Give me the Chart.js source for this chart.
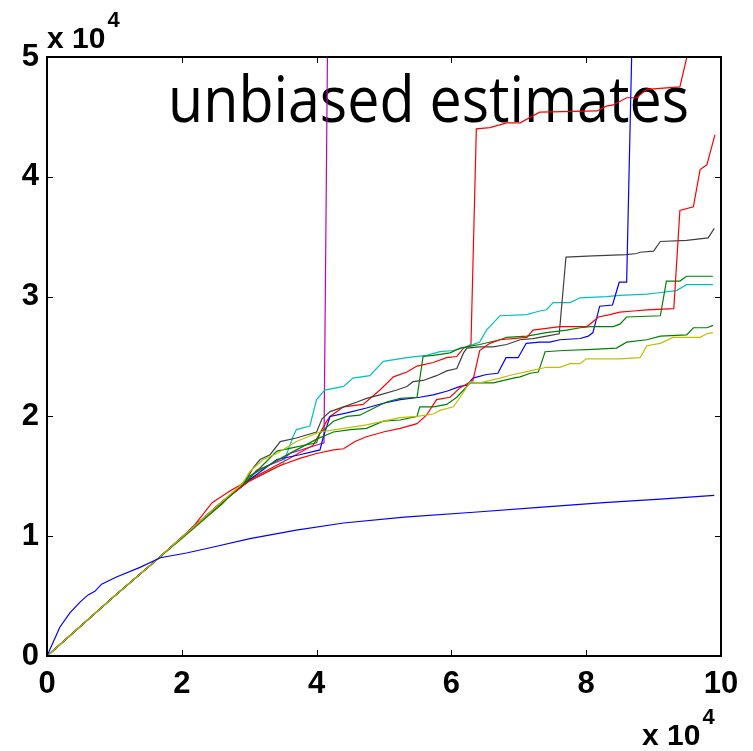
<!DOCTYPE html>
<html>
<head>
<meta charset="utf-8">
<script src="https://cdn.jsdelivr.net/npm/chart.js@4.4.1/dist/chart.umd.min.js"></script>
<style>
  html, body { margin: 0; padding: 0; background: #fff; }
  #wrap { width: 753px; height: 751px; }
</style>
</head>
<body>
<div id="wrap"><canvas id="estChart" width="753" height="751"></canvas></div>
<script>
// x and y in units of 10^4
const xTicks = [0, 2, 4, 6, 8, 10];
const yTicks = [0, 1, 2, 3, 4, 5];

const blueLow = [[0,0],[0.19,0.24],[0.34,0.36],[0.49,0.45],[0.61,0.51],[0.71,0.54],[0.81,0.6],[1.03,0.66],[1.38,0.74],[1.68,0.82],[2.07,0.86],[2.47,0.91],[3.01,0.98],[3.7,1.05],[4.4,1.11],[5.3,1.16],[6.33,1.2],[7.3,1.24],[8.26,1.28],[9.1,1.31],[9.9,1.34]];

const magenta = [[0,0],[1,0.5],[1.6,0.79],[2,0.99],[2.6,1.29],[2.9,1.42],[3.11,1.55],[3.5,1.64],[3.6,1.69],[4.05,1.77],[4.11,1.78],[4.17,5.6]];

const cyan = [[0,0],[1,0.5],[1.6,0.79],[2,0.99],[2.6,1.29],[3.0,1.46],[3.31,1.55],[3.5,1.6],[3.65,1.83],[3.7,1.89],[3.9,1.92],[4.0,2.14],[4.12,2.22],[4.4,2.25],[4.54,2.32],[4.79,2.34],[4.99,2.46],[5.34,2.49],[5.63,2.51],[5.83,2.54],[6.03,2.55],[6.23,2.58],[6.42,2.62],[6.52,2.72],[6.72,2.84],[7.12,2.85],[7.31,2.88],[7.41,2.89],[7.51,2.95],[7.76,2.95],[7.91,2.99],[8.3,3.0],[8.5,3.01],[8.9,3.02],[9.05,3.03],[9.34,3.05],[9.49,3.1],[9.88,3.1]];

const gray = [[0,0],[1,0.5],[1.6,0.79],[2,0.99],[2.6,1.28],[2.9,1.42],[3.06,1.57],[3.16,1.64],[3.31,1.68],[3.46,1.79],[3.7,1.82],[4.0,1.87],[4.08,1.98],[4.2,2.04],[4.4,2.08],[4.6,2.12],[4.74,2.15],[4.94,2.18],[5.19,2.22],[5.34,2.25],[5.43,2.29],[5.58,2.3],[5.78,2.34],[5.93,2.38],[6.08,2.4],[6.18,2.53],[6.23,2.57],[6.42,2.58],[6.62,2.58],[6.82,2.6],[7.02,2.64],[7.21,2.65],[7.41,2.67],[7.6,2.69],[7.7,3.33],[8.1,3.34],[8.6,3.35],[8.75,3.36],[8.8,3.37],[9.0,3.38],[9.1,3.46],[9.49,3.47],[9.81,3.49],[9.9,3.57]];

const redA = [[0,0],[1,0.5],[1.6,0.79],[2,0.99],[2.2,1.1],[2.45,1.28],[2.72,1.38],[3.0,1.47],[3.5,1.62],[3.95,1.76],[4.15,1.96],[4.2,2.0],[4.4,2.08],[4.69,2.1],[4.94,2.22],[5.14,2.33],[5.34,2.37],[5.49,2.42],[5.73,2.45],[5.93,2.49],[6.08,2.5],[6.18,2.57],[6.29,2.6],[6.37,4.4],[6.57,4.41],[6.82,4.45],[7.02,4.45],[7.31,4.54],[8.16,4.55],[8.3,4.59],[8.4,4.6],[8.6,4.66],[8.75,4.66],[8.9,4.73],[9.39,4.75],[9.49,4.99],[9.55,5.3]];

const redB = [[0,0],[1,0.5],[1.6,0.79],[2,0.99],[2.6,1.29],[3.0,1.46],[3.46,1.59],[3.75,1.65],[4.0,1.69],[4.25,1.72],[4.4,1.73],[4.57,1.79],[4.74,1.83],[4.99,1.87],[5.24,1.9],[5.49,1.94],[5.63,2.01],[5.78,2.14],[5.98,2.16],[6.13,2.24],[6.32,2.3],[6.42,2.55],[6.57,2.61],[6.72,2.64],[7.12,2.66],[7.21,2.72],[7.61,2.75],[8.01,2.75],[8.1,2.79],[8.18,2.83],[8.35,2.85],[8.5,2.87],[8.7,2.88],[8.9,2.89],[9.3,2.9],[9.39,3.72],[9.59,3.75],[9.69,4.06],[9.79,4.1],[9.91,4.35]];

const blueB = [[0,0],[1,0.5],[1.6,0.79],[2,0.99],[2.6,1.29],[3.0,1.47],[3.41,1.64],[3.75,1.68],[4.05,1.72],[4.1,1.83],[4.2,2.0],[4.45,2.03],[4.74,2.07],[4.99,2.11],[5.24,2.14],[5.53,2.16],[5.73,2.18],[5.93,2.21],[6.13,2.25],[6.23,2.26],[6.32,2.32],[6.52,2.35],[6.69,2.36],[6.81,2.49],[6.99,2.49],[7.11,2.61],[7.31,2.62],[7.46,2.62],[7.61,2.64],[7.91,2.65],[8.03,2.67],[8.1,2.7],[8.2,2.92],[8.39,2.93],[8.49,3.12],[8.6,3.12],[8.69,5.4]];

const greenA = [[0,0],[1,0.5],[1.6,0.79],[2,0.99],[2.6,1.28],[3.0,1.48],[3.41,1.71],[3.65,1.74],[4.0,1.78],[4.05,1.86],[4.25,1.96],[4.45,2.0],[4.64,2.01],[4.89,2.08],[5.04,2.12],[5.24,2.15],[5.49,2.16],[5.58,2.5],[5.73,2.51],[5.98,2.53],[6.13,2.57],[6.23,2.58],[6.42,2.6],[6.72,2.64],[6.82,2.66],[7.12,2.67],[7.41,2.7],[7.71,2.72],[7.91,2.74],[8.06,2.75],[8.4,2.75],[8.5,2.77],[8.6,2.83],[9.1,2.84],[9.19,3.13],[9.39,3.13],[9.49,3.17],[9.88,3.17]];

const greenB = [[0,0],[1,0.5],[1.6,0.79],[2,0.98],[2.6,1.27],[3.0,1.5],[3.5,1.66],[4.0,1.81],[4.25,1.87],[4.5,1.89],[4.74,1.9],[4.99,1.96],[5.24,1.97],[5.49,2.0],[5.53,2.08],[5.73,2.08],[5.93,2.1],[6.08,2.16],[6.28,2.28],[6.42,2.28],[6.62,2.28],[6.92,2.32],[7.02,2.33],[7.17,2.36],[7.29,2.37],[7.39,2.54],[7.66,2.55],[8.1,2.56],[8.45,2.57],[8.6,2.62],[8.9,2.64],[9.1,2.67],[9.49,2.68],[9.59,2.74],[9.79,2.74],[9.88,2.76]];

const yellow = [[0,0],[1,0.5],[1.6,0.79],[2,0.99],[2.6,1.29],[2.9,1.44],[3.01,1.54],[3.21,1.64],[3.41,1.69],[3.7,1.79],[4.05,1.87],[4.4,1.9],[4.74,1.93],[4.99,1.96],[5.24,1.99],[5.49,2.0],[5.73,2.02],[5.83,2.05],[6.03,2.08],[6.13,2.16],[6.28,2.29],[6.42,2.28],[6.72,2.32],[6.92,2.35],[7.17,2.38],[7.41,2.41],[7.61,2.41],[7.76,2.44],[7.91,2.44],[8.0,2.48],[8.5,2.48],[8.8,2.49],[8.9,2.59],[9.1,2.61],[9.29,2.66],[9.69,2.66],[9.79,2.69],[9.88,2.7]];

const seriesList = [
  { data: blueLow, color: "#0000ff" },
  { data: yellow,  color: "#bfbf00" },
  { data: greenB,  color: "#008000" },
  { data: redB,    color: "#ff0000" },
  { data: greenA,  color: "#008000" },
  { data: blueB,   color: "#0000ff" },
  { data: gray,    color: "#404040" },
  { data: cyan,    color: "#00bfbf" },
  { data: redA,    color: "#ff0000" },
  { data: magenta, color: "#bf00bf" },
];

const tickFont = { family: "'Liberation Sans', Arial, sans-serif", size: 31, weight: "bold" };

// writes "x 10" with a raised 4 after it
function drawExponent(ctx, x, y) {
  ctx.font = "bold 30px 'Liberation Sans', Arial, sans-serif";
  ctx.fillText("x 10", x, y);
  const w = ctx.measureText("x 10").width;
  ctx.font = "bold 22px 'Liberation Sans', Arial, sans-serif";
  ctx.fillText("4", x + w + 2, y - 21);
}

// box, inward ticks and the extra texts
const decorations = {
  id: "decorations",
  beforeDatasetsDraw(chart) {
    const ctx = chart.ctx;
    ctx.save();
    ctx.fillStyle = "#000";
    ctx.font = "64px 'Open Sans', sans-serif";
    ctx.textBaseline = "alphabetic";
    const label = "unbiased estimates";
    const w = ctx.measureText(label).width;
    ctx.translate(168, 122);
    ctx.scale(521 / w, 1);
    ctx.fillText(label, 0, 0);
    ctx.restore();
  },
  afterDatasetsDraw(chart) {
    const { ctx, chartArea: a, scales } = chart;
    ctx.save();
    ctx.strokeStyle = "#000";
    ctx.lineWidth = 1;
    const tl = 6;
    ctx.beginPath();
    xTicks.forEach((v) => {
      const px = Math.round(scales.x.getPixelForValue(v)) + 0.5;
      ctx.moveTo(px, a.bottom); ctx.lineTo(px, a.bottom - tl);
      ctx.moveTo(px, a.top); ctx.lineTo(px, a.top + tl);
    });
    yTicks.forEach((v) => {
      const py = Math.round(scales.y.getPixelForValue(v)) + 0.5;
      ctx.moveTo(a.left, py); ctx.lineTo(a.left + tl, py);
      ctx.moveTo(a.right, py); ctx.lineTo(a.right - tl, py);
    });
    ctx.stroke();
    ctx.lineWidth = 2;
    ctx.strokeRect(a.left, a.top, a.right - a.left, a.bottom - a.top);

    ctx.fillStyle = "#000";
    ctx.textBaseline = "alphabetic";
    ctx.textAlign = "left";
    drawExponent(ctx, 47, 48);
    drawExponent(ctx, 642, 745);
    ctx.restore();
  },
};

new Chart(document.getElementById("estChart"), {
  type: "line",
  data: {
    datasets: seriesList.map((s) => ({
      data: s.data.map((p) => ({ x: p[0], y: p[1] })),
      borderColor: s.color,
      backgroundColor: s.color,
      borderWidth: 1.2,
      pointRadius: 0,
      fill: false,
      tension: 0,
    })),
  },
  options: {
    responsive: false,
    animation: false,
    layout: { padding: { top: 57, right: 32, left: 0, bottom: 0 } },
    scales: {
      x: {
        type: "linear",
        min: 0,
        max: 10,
        afterFit: (scale) => { scale.height = 95; },
        afterBuildTicks: (scale) => { scale.ticks = xTicks.map((v) => ({ value: v })); },
        grid: { display: false, drawTicks: false },
        border: { display: false },
        ticks: { color: "#000", font: tickFont, padding: 10, maxRotation: 0 },
      },
      y: {
        min: 0,
        max: 5,
        afterFit: (scale) => { scale.width = 47; },
        afterBuildTicks: (scale) => { scale.ticks = yTicks.map((v) => ({ value: v })); },
        grid: { display: false, drawTicks: false },
        border: { display: false },
        ticks: { color: "#000", font: tickFont, padding: 8 },
      },
    },
    plugins: {
      legend: { display: false },
      tooltip: { enabled: false },
    },
  },
  plugins: [decorations],
});
</script>
</body>
</html>
